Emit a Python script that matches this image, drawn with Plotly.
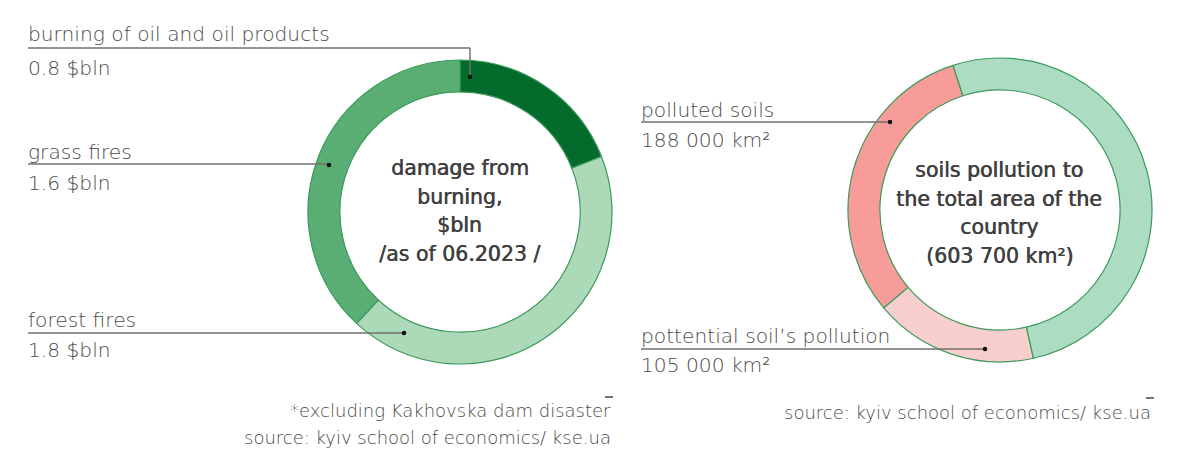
import plotly.graph_objects as go

W, H = 1184, 458

# ---- data ----
burn_labels = ["burning of oil and oil products", "forest fires", "grass fires"]
burn_values = [0.8, 1.8, 1.6]
burn_value_text = ["0.8 $bln", "1.8 $bln", "1.6 $bln"]
burn_colors = ["#036b2b", "#acd9b8", "#5aae73"]

total_area = 603700
soil_labels = ["polluted soils", "pottential soil’s pollution", "rest of the country"]
soil_values = [188000, 105000, total_area - 188000 - 105000]
soil_value_text = ["188 000 km²", "105 000 km²", ""]
soil_colors = ["#f79c98", "#f9cfcd", "#acdcc1"]

center_left = ["damage from", "burning,", "$bln", "/as of 06.2023 /"]
center_right = ["soils pollution to", "the total area of the", "country", "(603 700 km²)"]

def px(x):
    return x / W

def py(y):
    return 1 - y / H

def domain(cx, cy, r):
    return dict(x=[px(cx - r), px(cx + r)], y=[py(cy + r), py(cy - r)])

LC = (460, 212)
RC = (1000, 210)
R = 152

# polluted slice should end 18 deg counter-clockwise from 12 o'clock
soil_start = -(18 + soil_values[0] / sum(soil_values) * 360)

fig = go.Figure()
fig.add_trace(go.Pie(
    labels=burn_labels, values=burn_values, hole=0.79, sort=False,
    direction="clockwise", rotation=0, domain=domain(*LC, R),
    marker=dict(colors=burn_colors, line=dict(color="#3b9a5c", width=1.2)),
    textinfo="none", hoverinfo="label+value", showlegend=False,
))
fig.add_trace(go.Pie(
    labels=soil_labels, values=soil_values, hole=0.79, sort=False,
    direction="counterclockwise", rotation=soil_start, domain=domain(*RC, R),
    marker=dict(colors=soil_colors, line=dict(color="#3b9a5c", width=1.2)),
    textinfo="none", hoverinfo="label+value", showlegend=False,
))

LBL_FONT = dict(family="DejaVu Sans, sans-serif", size=20.2, color="#4a4a4a", weight=200)
CTR_FONT = dict(family="DejaVu Sans, sans-serif", size=20.5, color="#404040", weight=400,
                shadow="0.6px 0px 0px #404040")
FOOT = dict(family="DejaVu Sans, sans-serif", size=18, color="#4a4a4a", weight=200)
LINE = dict(color="#707070", width=1.5)

annotations = []
shapes = []

def label(x, y, text, anchor="left", font=LBL_FONT):
    annotations.append(dict(x=px(x), y=py(y), xref="paper", yref="paper",
                            text=text, showarrow=False, xanchor=anchor,
                            yanchor="middle", font=font))

def dot(x, y, r=2.3):
    shapes.append(dict(type="circle", xref="paper", yref="paper",
                       x0=px(x - r), x1=px(x + r), y0=py(y + r), y1=py(y - r),
                       fillcolor="#111111", line=dict(width=0)))

def seg(x0, y0, x1, y1):
    shapes.append(dict(type="line", xref="paper", yref="paper",
                       x0=px(x0), x1=px(x1), y0=py(y0), y1=py(y1), line=LINE))

# left donut labels
label(26, 34, burn_labels[0]); label(26, 68, burn_value_text[0])
seg(28, 48, 470, 48); seg(470, 48, 470, 77); dot(470, 77)

label(26, 152, burn_labels[2]); label(26, 183, burn_value_text[2])
seg(28, 164, 329, 164); dot(329, 165)

label(26, 320, burn_labels[1]); label(26, 350, burn_value_text[1])
seg(28, 333, 404, 333); dot(404, 333)

# right donut labels
label(639, 110, soil_labels[0]); label(639, 140, soil_value_text[0])
seg(641, 122, 890, 122); dot(890, 122)

label(639, 336, soil_labels[1]); label(639, 365, soil_value_text[1])
seg(641, 349, 985, 349); dot(985, 349)

# center texts, one line each
def center_block(cx, cy, lines, step=28.5):
    n = len(lines)
    for i, t in enumerate(lines):
        y = cy + (i - (n - 1) / 2) * step
        annotations.append(dict(x=px(cx), y=py(y), xref="paper", yref="paper",
                                text=t, showarrow=False, xanchor="center",
                                yanchor="middle", font=CTR_FONT))

center_block(LC[0], 211, center_left)
center_block(RC[0] - 1, 213, center_right)

# footnotes
label(613, 410, "*excluding Kakhovska dam disaster", anchor="right", font=FOOT)
label(613, 437, "source: kyiv school of economics/ kse.ua", anchor="right", font=FOOT)
label(1153, 412, "source: kyiv school of economics/ kse.ua", anchor="right", font=FOOT)
shapes.append(dict(type="line", xref="paper", yref="paper", x0=px(605), x1=px(613),
                   y0=py(397), y1=py(397), line=dict(color="#444", width=1.5)))
shapes.append(dict(type="line", xref="paper", yref="paper", x0=px(1146), x1=px(1154),
                   y0=py(398), y1=py(398), line=dict(color="#444", width=1.5)))

fig.update_layout(
    width=W, height=H, margin=dict(l=0, r=0, t=0, b=0),
    paper_bgcolor="white", plot_bgcolor="white",
    annotations=annotations, shapes=shapes,
)
fig.write_html("out.html", config={"displayModeBar": False},
               post_script="document.body.style.margin='0';")
